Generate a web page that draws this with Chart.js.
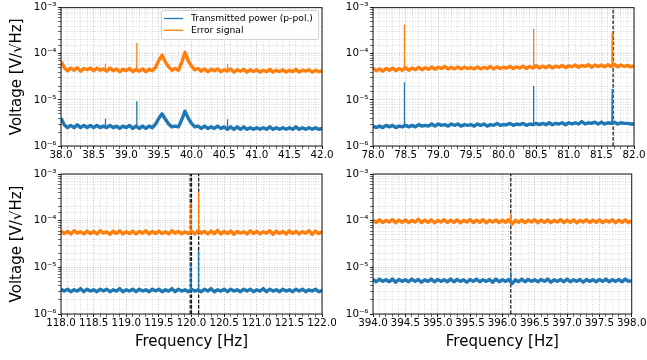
<!DOCTYPE html>
<html>
<head>
<meta charset="utf-8">
<script src="https://cdn.jsdelivr.net/npm/chart.js@4.4.1/dist/chart.umd.min.js"></script>
<style>
  html, body { margin: 0; padding: 0; background: #fff; }
  #wrap { position: relative; width: 647px; height: 360px; }
  #wrap canvas { position: absolute; left: 0; top: 0; }
</style>
</head>
<body>
<div id="wrap">
  <canvas id="p1" width="647" height="360"></canvas>
  <canvas id="p2" width="647" height="360"></canvas>
  <canvas id="p3" width="647" height="360"></canvas>
  <canvas id="p4" width="647" height="360"></canvas>
</div>
<script>
// spectra are sampled every 0.05 Hz from the left edge of each panel
const STEP = 0.05;
const SERIES_NAMES = ['Transmitted power (p-pol.)', 'Error signal'];
const ERR_UNIT = 1e-5;   // error signal values below are in 1e-5 V/√Hz
const TRANS_UNIT = 1e-6; // transmitted power values below are in 1e-6 V/√Hz

// ---- panel 1 : 38 - 42 Hz
const p1Range = [38, 42];
const p1Error = [
  6.8, 5.0, 4.3, 4.9, 4.4, 5.0, 4.2, 4.8, 4.5, 4.9,
  4.3, 4.9, 4.4, 4.7, 4.2, 4.9, 4.3, 4.7, 4.1, 4.6,
  4.3, 4.8, 4.1, 4.6, 4.2, 4.7, 4.1, 4.6, 4.3, 5.1,
  7.2, 9.3, 6.6, 5.2, 4.4, 4.8, 4.4, 6.5, 10.8, 7.0,
  5.4, 4.5, 4.8, 4.2, 4.7, 4.1, 4.6, 4.3, 4.7, 4.1,
  4.5, 4.2, 4.7, 4.0, 4.5, 4.2, 4.6, 4.0, 4.5, 4.1,
  4.5, 4.0, 4.4, 4.1, 4.6, 4.0, 4.4, 4.1, 4.5, 4.0,
  4.4, 4.1, 4.6, 4.0, 4.4, 4.2, 4.5, 4.0, 4.4, 4.1,
  4.3
];
const p1Trans = [
  4.0, 2.9, 2.5, 2.8, 2.5, 2.9, 2.5, 2.8, 2.5, 2.8,
  2.5, 2.8, 2.5, 2.7, 2.5, 2.8, 2.5, 2.7, 2.4, 2.7,
  2.5, 2.8, 2.4, 2.7, 2.4, 2.7, 2.4, 2.7, 2.5, 3.0,
  4.0, 5.0, 3.8, 3.0, 2.6, 2.7, 2.6, 3.7, 5.7, 4.0,
  3.1, 2.6, 2.7, 2.4, 2.7, 2.4, 2.6, 2.4, 2.7, 2.4,
  2.6, 2.3, 2.6, 2.3, 2.6, 2.3, 2.6, 2.3, 2.5, 2.3,
  2.5, 2.3, 2.5, 2.3, 2.6, 2.3, 2.5, 2.3, 2.5, 2.3,
  2.5, 2.3, 2.6, 2.3, 2.5, 2.3, 2.5, 2.3, 2.5, 2.3,
  2.4
];
const p1SpikeFreq = [38.68, 39.16, 40.55];
const p1SpikeError = [6.1, 17.2, 6.1];
const p1SpikeTrans = [3.9, 9.4, 3.8];
const p1Marks = [];

// ---- panel 2 : 78 - 82 Hz
const p2Range = [78, 82];
const p2Error = [
  4.8, 4.3, 4.7, 4.2, 4.8, 4.4, 4.9, 4.3, 4.8, 4.4,
  5.0, 4.4, 4.9, 4.5, 5.1, 4.5, 5.0, 4.6, 5.2, 4.6,
  5.1, 4.8, 5.3, 4.7, 5.1, 4.7, 5.2, 4.7, 5.1, 4.8,
  5.0, 4.7, 5.2, 4.7, 5.1, 4.8, 5.3, 4.7, 5.2, 4.8,
  5.1, 4.9, 5.3, 4.8, 5.2, 4.9, 5.4, 4.8, 5.3, 4.9,
  5.5, 4.9, 5.4, 5.0, 5.5, 4.9, 5.4, 5.1, 5.6, 5.0,
  5.5, 5.2, 5.7, 5.1, 5.6, 5.3, 5.8, 5.1, 5.7, 5.3,
  5.7, 5.2, 5.8, 5.3, 5.9, 5.2, 5.7, 5.3, 5.6, 5.2,
  5.5
];
const p2Trans = [
  2.7, 2.5, 2.7, 2.5, 2.8, 2.6, 2.8, 2.5, 2.7, 2.6,
  2.8, 2.6, 2.8, 2.6, 2.9, 2.7, 2.8, 2.7, 3.0, 2.7,
  3.0, 2.8, 2.9, 2.7, 3.0, 2.8, 3.0, 2.7, 2.9, 2.8,
  2.9, 2.7, 3.0, 2.8, 3.0, 2.7, 2.9, 2.8, 3.1, 2.8,
  2.9, 2.9, 3.1, 2.8, 3.0, 2.9, 3.1, 2.8, 3.0, 2.9,
  3.1, 2.9, 3.1, 2.9, 3.2, 2.9, 3.1, 3.0, 3.2, 2.9,
  3.2, 3.0, 3.2, 3.0, 3.4, 3.0, 3.2, 3.1, 3.3, 3.0,
  3.3, 3.0, 3.2, 3.1, 3.3, 3.0, 3.2, 3.1, 3.1, 3.0,
  3.0
];
const p2SpikeFreq = [78.48, 80.46, 81.665];
const p2SpikeError = [43, 35, 29];
const p2SpikeTrans = [24, 20, 17];
const p2Marks = [81.68];

// ---- panel 3 : 118 - 122 Hz
const p3Range = [118, 122];
const p3Error = [
  6.0, 5.3, 5.9, 5.2, 6.1, 5.4, 5.8, 5.2, 6.0, 5.3,
  5.9, 5.2, 6.1, 5.4, 5.8, 5.1, 6.0, 5.3, 6.1, 5.2,
  5.8, 5.3, 6.0, 5.2, 5.9, 5.4, 6.1, 5.2, 5.9, 5.3,
  6.0, 5.3, 5.8, 5.2, 6.1, 5.4, 5.9, 5.2, 5.8, 5.3,
  6.0, 5.2, 6.1, 5.4, 5.9, 5.2, 6.0, 5.3, 6.2, 5.2,
  5.9, 5.3, 6.0, 5.1, 5.9, 5.4, 5.8, 5.2, 6.1, 5.3,
  5.9, 5.2, 5.8, 5.4, 6.1, 5.1, 6.0, 5.3, 5.9, 5.2,
  6.1, 5.3, 5.9, 5.2, 5.8, 5.4, 6.1, 5.1, 6.0, 5.3,
  5.8
];
const p3Trans = [
  3.4, 3.1, 3.4, 3.0, 3.3, 3.1, 3.5, 3.0, 3.4, 3.1,
  3.3, 3.0, 3.4, 3.1, 3.4, 3.0, 3.3, 3.1, 3.5, 3.0,
  3.3, 3.1, 3.4, 3.0, 3.4, 3.1, 3.3, 3.0, 3.4, 3.1,
  3.4, 3.0, 3.3, 3.1, 3.5, 3.0, 3.4, 3.1, 3.3, 3.0,
  3.4, 3.1, 3.3, 3.0, 3.4, 3.1, 3.5, 3.0, 3.3, 3.1,
  3.4, 3.0, 3.4, 3.1, 3.3, 3.0, 3.4, 3.1, 3.4, 3.0,
  3.3, 3.1, 3.5, 3.0, 3.4, 3.1, 3.3, 3.0, 3.4, 3.1,
  3.3, 3.0, 3.4, 3.1, 3.4, 3.0, 3.3, 3.1, 3.4, 3.0,
  3.2
];
const p3SpikeFreq = [119.99, 120.105];
const p3SpikeError = [24, 42];
const p3SpikeTrans = [13, 23.5];
const p3Marks = [119.98, 120.0, 120.11];

// ---- panel 4 : 394 - 398 Hz
const p4Range = [394, 398];
const p4Error = [
  10.3, 9.2, 10.5, 9.1, 10.2, 9.3, 10.6, 9.0, 10.3, 9.2,
  10.4, 9.1, 10.2, 9.3, 10.7, 9.1, 10.3, 9.2, 10.4, 9.0,
  10.2, 9.3, 10.5, 9.1, 10.3, 9.2, 10.4, 9.0, 10.2, 9.3,
  10.6, 9.1, 10.3, 9.2, 10.5, 9.0, 10.2, 9.3, 10.4, 9.1,
  10.3, 9.2, 10.5, 8.4, 10.2, 9.2, 10.4, 9.1, 10.3, 9.3,
  10.5, 9.0, 10.3, 9.2, 10.4, 9.1, 10.2, 9.3, 10.6, 9.1,
  10.3, 9.2, 10.4, 9.0, 10.2, 9.3, 10.5, 9.1, 10.3, 9.2,
  10.4, 9.1, 10.2, 9.3, 10.5, 9.0, 10.3, 9.2, 10.4, 9.1,
  10.0
];
const p4Trans = [
  5.5, 4.9, 5.6, 5.0, 5.4, 4.9, 5.6, 4.8, 5.5, 5.0,
  5.4, 4.9, 5.6, 5.0, 5.5, 4.8, 5.4, 5.0, 5.6, 4.9,
  5.5, 5.0, 5.4, 4.9, 5.6, 4.9, 5.5, 5.0, 5.4, 4.8,
  5.5, 5.0, 5.6, 4.9, 5.4, 5.0, 5.5, 4.8, 5.6, 4.9,
  5.4, 5.0, 5.5, 4.5, 5.4, 4.9, 5.6, 4.9, 5.5, 5.0,
  5.4, 4.9, 5.5, 5.0, 5.6, 4.8, 5.4, 5.0, 5.5, 4.9,
  5.6, 4.9, 5.4, 5.0, 5.5, 4.8, 5.5, 5.0, 5.4, 4.9,
  5.5, 5.0, 5.6, 4.9, 5.4, 5.0, 5.5, 4.9, 5.6, 5.0,
  5.2
];
const p4SpikeFreq = [396.13];
const p4SpikeError = [15];
const p4SpikeTrans = [8.0];
const p4Marks = [396.13];

const yTicks = [1e-6, 1e-5, 1e-4, 1e-3];

const BLUE = '#1f77b4';
const ORANGE = '#ff7f0e';
const GRID_MAJOR = 'rgba(150,150,150,0.75)';
const GRID_MINOR = 'rgba(180,180,180,0.6)';

Chart.defaults.font.family = '"DejaVu Sans", sans-serif';
Chart.defaults.color = '#000';

const SUP = { '-': '⁻', '0': '⁰', '1': '¹', '2': '²', '3': '³', '4': '⁴', '5': '⁵', '6': '⁶', '7': '⁷', '8': '⁸', '9': '⁹' };
function powLabel(v) {
  const e = Math.round(Math.log10(v));
  return '10' + String(e).split('').map(c => SUP[c]).join('');
}
function isDecade(v) {
  return yTicks.some(t => Math.abs(v / t - 1) < 1e-6);
}
function isHalf(v) {
  return Math.abs(v * 2 - Math.round(v * 2)) < 1e-6;
}

// axes frame (all four spines) and the in-axes legend
const framePlugin = {
  id: 'frame',
  afterDraw(chart, args, opts) {
    const { ctx, chartArea: a } = chart;
    ctx.save();
    ctx.strokeStyle = '#000';
    ctx.lineWidth = 0.9;
    ctx.strokeRect(a.left, a.top, a.right - a.left, a.bottom - a.top);
    if (opts.legend) {
      const x = 161, y = 10, w = 157, h = 29;
      ctx.fillStyle = 'rgba(255,255,255,0.85)';
      ctx.strokeStyle = '#d0d0d0';
      ctx.lineWidth = 1;
      ctx.beginPath();
      ctx.roundRect(x + 0.5, y + 0.5, w, h, 2.5);
      ctx.fill();
      ctx.stroke();
      ctx.font = '9.2px "DejaVu Sans"';
      ctx.textBaseline = 'middle';
      ctx.fillStyle = '#000';
      [BLUE, ORANGE].forEach((c, i) => {
        const ly = y + 8.5 + i * 11.8;
        ctx.strokeStyle = c;
        ctx.lineWidth = 1.3;
        ctx.beginPath();
        ctx.moveTo(x + 3, ly);
        ctx.lineTo(x + 22, ly);
        ctx.stroke();
        ctx.fillText(SERIES_NAMES[i], x + 30, ly);
      });
    }
    ctx.restore();
  }
};

function makePanel(id, o) {
  const freqs = o.error.map((_, i) => +(o.range[0] + i * STEP).toFixed(3));
  const toPts = (vals, unit) => vals.map((v, i) => ({ x: freqs[i], y: v * unit }));
  const spikePts = (peaks, vals, unit) => {
    const pts = [];
    o.spikeFreq.forEach((f, k) => {
      const i = Math.floor((f - o.range[0]) / STEP + 1e-9);
      const base = (vals[i] + vals[i + 1]) / 2 * unit;
      pts.push({ x: f - 0.004, y: base }, { x: f, y: peaks[k] * unit }, { x: f + 0.004, y: base }, { x: f + 0.005, y: null });
    });
    return pts;
  };

  const datasets = [
    { label: SERIES_NAMES[0], data: toPts(o.trans, TRANS_UNIT), borderColor: BLUE, borderWidth: 3.4, borderJoinStyle: 'round' },
    { label: '', data: spikePts(o.spikeTrans, o.trans, TRANS_UNIT), borderColor: BLUE, borderWidth: 1.3 },
    { label: SERIES_NAMES[1], data: toPts(o.error, ERR_UNIT), borderColor: ORANGE, borderWidth: 3.4, borderJoinStyle: 'round' },
    { label: '', data: spikePts(o.spikeError, o.error, ERR_UNIT), borderColor: ORANGE, borderWidth: 1.3 }
  ];
  // dashed markers sit under the spectra
  o.marks.forEach(f => {
    datasets.push({
      label: '', order: 10,
      data: [{ x: f, y: yTicks[0] }, { x: f, y: yTicks[yTicks.length - 1] }],
      borderColor: '#111', borderWidth: 1.2, borderDash: [3.7, 1.6]
    });
  });

  return new Chart(document.getElementById(id), {
    type: 'line',
    data: { datasets },
    options: {
      responsive: false,
      animation: false,
      events: [],
      layout: { padding: o.pad },
      elements: { point: { radius: 0 }, line: { tension: 0 } },
      plugins: {
        legend: { display: false },
        tooltip: { enabled: false },
        frame: { legend: !!o.legend }
      },
      scales: {
        x: {
          type: 'linear',
          min: o.range[0],
          max: o.range[1],
          ticks: {
            stepSize: 0.1, autoSkip: false, maxRotation: 0, padding: 0.5,
            font: { size: 10.3 },
            callback: v => isHalf(v) ? v.toFixed(1) : ''
          },
          grid: {
            lineWidth: 0.8,
            color: c => (c.tick && isHalf(c.tick.value)) ? GRID_MAJOR : GRID_MINOR,
            tickLength: 3,
            tickColor: '#000',
            tickWidth: c => (c.tick && isHalf(c.tick.value)) ? 0.9 : 0.6,
            tickBorderDash: []
          },
          border: { display: false, dash: [1, 1.6] },
          title: { display: !!o.xTitle, text: 'Frequency [Hz]', font: { size: 15 }, padding: { top: 0, bottom: 9 } },
          afterFit: s => { s.height = o.xH; }
        },
        y: {
          type: 'logarithmic',
          min: yTicks[0],
          max: yTicks[yTicks.length - 1],
          ticks: {
            autoSkip: false, padding: 1.5,
            font: { size: 10.3 },
            callback: v => isDecade(v) ? powLabel(v) : ''
          },
          grid: {
            lineWidth: 0.8,
            color: c => (c.tick && isDecade(c.tick.value)) ? GRID_MAJOR : GRID_MINOR,
            tickLength: 3,
            tickColor: '#000',
            tickWidth: c => (c.tick && isDecade(c.tick.value)) ? 0.9 : 0.6,
            tickBorderDash: []
          },
          border: { display: false, dash: [1, 1.6] },
          title: { display: !!o.yTitle, text: 'Voltage [V/√Hz]', font: { size: 15 }, padding: { top: 8, bottom: 0 } },
          afterFit: s => { s.width = o.yW; }
        }
      }
    },
    plugins: [framePlugin]
  });
}

makePanel('p1', {
  range: p1Range, error: p1Error, trans: p1Trans,
  spikeFreq: p1SpikeFreq, spikeError: p1SpikeError, spikeTrans: p1SpikeTrans, marks: p1Marks,
  pad: { left: 0, right: 325, top: 6, bottom: 194 }, yW: 61, xH: 20, yTitle: true, legend: true
});
makePanel('p2', {
  range: p2Range, error: p2Error, trans: p2Trans,
  spikeFreq: p2SpikeFreq, spikeError: p2SpikeError, spikeTrans: p2SpikeTrans, marks: p2Marks,
  pad: { left: 320, right: 13, top: 6, bottom: 194 }, yW: 53, xH: 20
});
makePanel('p3', {
  range: p3Range, error: p3Error, trans: p3Trans,
  spikeFreq: p3SpikeFreq, spikeError: p3SpikeError, spikeTrans: p3SpikeTrans, marks: p3Marks,
  pad: { left: 0, right: 325, top: 174, bottom: 0 }, yW: 61, xH: 46, yTitle: true, xTitle: true
});
makePanel('p4', {
  range: p4Range, error: p4Error, trans: p4Trans,
  spikeFreq: p4SpikeFreq, spikeError: p4SpikeError, spikeTrans: p4SpikeTrans, marks: p4Marks,
  pad: { left: 320, right: 13, top: 174, bottom: 0 }, yW: 53, xH: 46, xTitle: true
});
</script>
</body>
</html>
